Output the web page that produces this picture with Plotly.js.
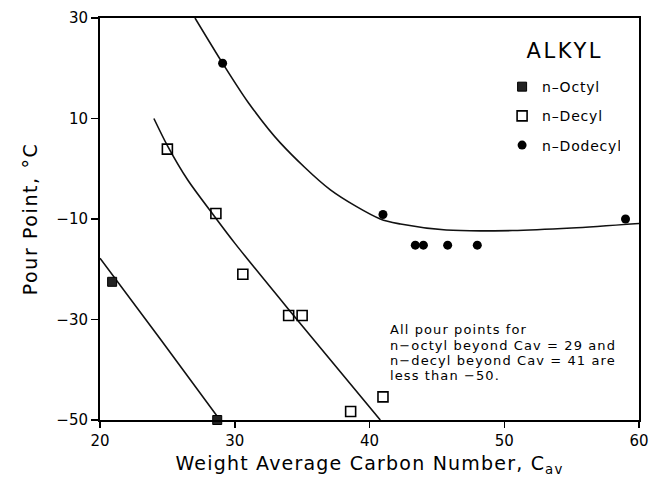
<!DOCTYPE html>
<html>
<head>
<meta charset="utf-8">
<script src="https://cdn.plot.ly/plotly-3.0.1.min.js"></script>
<style>
html,body{margin:0;padding:0;background:#fff}
#chart{width:650px;height:484px}
#chart text.xtitle{letter-spacing:1.2px}
#chart text.ytitle{letter-spacing:1.6px}
#chart text.legendtext{letter-spacing:0.8px}
#chart g.annotation text{letter-spacing:1.1px}
#chart g.annotation.alkyl text{letter-spacing:2.6px}
</style>
</head>
<body>
<div id="chart"></div>
<script>
// Data points
const octylX = [20.9, 28.7];
const octylY = [-22.5, -50];
const decylX = [25.0, 28.6, 30.6, 34.0, 35.0, 38.6, 41.0];
const decylY = [3.9, -8.9, -21.0, -29.2, -29.2, -48.3, -45.4];
const dodecylX = [29.1, 41.0, 43.4, 44.0, 45.8, 48.0, 59.0];
const dodecylY = [21.0, -9.1, -15.2, -15.2, -15.2, -15.2, -10.0];

// Fitted curves (as drawn)
const octylCurveX = [20.0, 24.5, 28.9];
const octylCurveY = [-17.8, -34.0, -50.0];
const decylCurveX = [24.0, 25.0, 26.5, 28.5, 30.0, 34.0, 40.8];
const decylCurveY = [10.0, 4.6, -2.2, -9.5, -14.8, -28.0, -50.0];
const dodecylCurveX = [27.05, 29.1, 31.0, 33.4, 37.1, 40.8, 42.3, 45.7, 50.6, 55.0, 60.0];
const dodecylCurveY = [30.0, 21.0, 13.2, 5.1, -4.2, -10.0, -11.0, -12.2, -12.3, -11.8, -10.9];

const xTicks = [20, 30, 40, 50, 60];
const yTicks = [30, 10, -10, -30, -50];

const legendTitle = "ALKYL";
const noteLines = [
  "All pour points for",
  "n\u2212octyl beyond Cav = 29 and",
  "n\u2212decyl beyond Cav = 41 are",
  "less than \u221250."
];

const FONT = "DejaVu Sans, Verdana, sans-serif";
const lineStyle = {color: "#111", width: 1.6, shape: "spline", smoothing: 0.8};

const traces = [
  {x: octylCurveX, y: octylCurveY, mode: "lines", line: lineStyle, showlegend: false, hoverinfo: "skip"},
  {x: decylCurveX, y: decylCurveY, mode: "lines", line: lineStyle, showlegend: false, hoverinfo: "skip"},
  {x: dodecylCurveX, y: dodecylCurveY, mode: "lines", line: lineStyle, showlegend: false, hoverinfo: "skip"},
  {x: octylX, y: octylY, mode: "markers", name: "n\u2013Octyl", legendgroup: "a",
   marker: {symbol: "square", size: 9, color: "#222", line: {color: "#000", width: 1}}, cliponaxis: false},
  {x: decylX, y: decylY, mode: "markers", name: "n\u2013Decyl", legendgroup: "b",
   marker: {symbol: "square-open", size: 10, color: "#000", line: {width: 1.6}}, cliponaxis: false},
  {x: dodecylX, y: dodecylY, mode: "markers", name: "n\u2013Dodecyl", legendgroup: "c",
   marker: {symbol: "circle", size: 9, color: "#000"}, cliponaxis: false}
];

const noteY = [0.2256, 0.1858, 0.1475, 0.1095];
const annotations = noteLines.map((t, i) => ({
  xref: "paper", yref: "paper", x: 0.534, y: noteY[i], xanchor: "left", yanchor: "middle",
  align: "left", showarrow: false, font: {size: 13, family: FONT}, text: t
}));
annotations.push({
  xref: "paper", yref: "paper", x: 0.862, y: 0.918, xanchor: "center", yanchor: "middle",
  showarrow: false, font: {size: 21, family: FONT}, text: legendTitle
});

const layout = {
  width: 650, height: 484,
  margin: {l: 100, r: 11, t: 18, b: 64},
  paper_bgcolor: "#fff", plot_bgcolor: "#fff",
  font: {family: FONT, color: "#000", size: 15},
  xaxis: {
    range: [20, 60], tickvals: xTicks, ticktext: xTicks.map(String),
    showgrid: false, zeroline: false,
    showline: true, linecolor: "#000", linewidth: 2, mirror: true,
    ticks: "outside", ticklen: 6, tickwidth: 1.5, tickcolor: "#000",
    tickfont: {size: 15, family: FONT},
    title: {text: "Weight Average Carbon Number, C<sub>av</sub>", font: {size: 19, family: FONT}, standoff: 8}
  },
  yaxis: {
    range: [-50, 30], tickvals: yTicks, ticktext: yTicks.map(v => v < 0 ? "\u2212" + Math.abs(v) : String(v)),
    showgrid: false, zeroline: false,
    showline: true, linecolor: "#000", linewidth: 2, mirror: true,
    ticks: "outside", ticklen: 7, tickwidth: 1.5, tickcolor: "#000",
    tickfont: {size: 15, family: FONT},
    title: {text: "Pour Point, \u00B0C", font: {size: 19, family: FONT}, standoff: 14}
  },
  showlegend: true,
  legend: {
    x: 0.746, y: 0.868, xanchor: "left", yanchor: "top",
    bgcolor: "rgba(0,0,0,0)",
    font: {size: 14, family: FONT},
    itemwidth: 30, tracegroupgap: 8
  },
  annotations: annotations
};

Plotly.newPlot("chart", traces, layout, {displayModeBar: false, staticPlot: true}).then(() => {
  // tag the legend-title annotation so the CSS letter-spacing applies
  const ann = document.querySelectorAll("#chart g.annotation");
  if (ann.length) ann[ann.length - 1].classList.add("alkyl");
});
</script>
</body>
</html>
